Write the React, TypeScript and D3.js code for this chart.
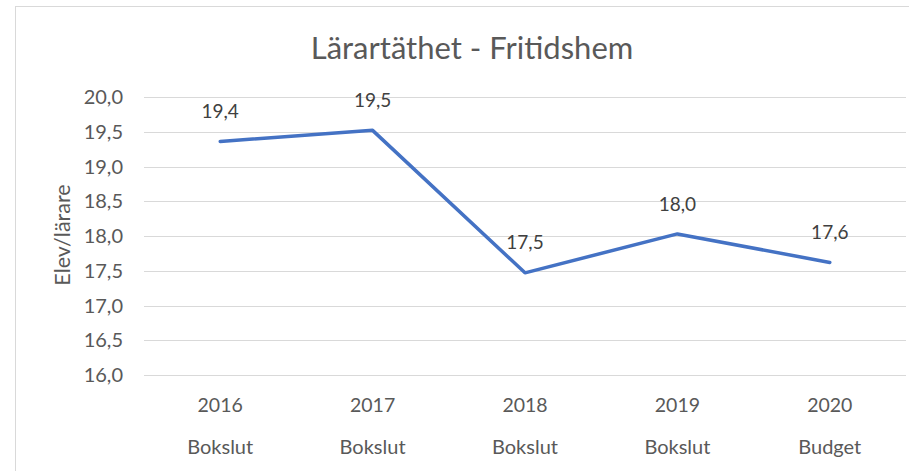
import React, { useEffect, useRef } from 'react';
import * as d3 from 'd3';

const years = ['2016', '2017', '2018', '2019', '2020'];
const kinds = ['Bokslut', 'Bokslut', 'Bokslut', 'Bokslut', 'Budget'];
const values = [19.36, 19.52, 17.47, 18.03, 17.62];
const valueLabels = ['19,4', '19,5', '17,5', '18,0', '17,6'];
const yTicks = [16, 16.5, 17, 17.5, 18, 18.5, 19, 19.5, 20];

export default function App() {
  const ref = useRef<SVGSVGElement>(null);

  useEffect(() => {
    if (!ref.current) return;
    const svg = d3.select(ref.current);
    svg.selectAll('*').remove();

    const width = 909;
    const height = 471;
    const margin = { top: 97, right: 3, bottom: 96, left: 144 };
    const font = 'Lato, Calibri, sans-serif';
    const textColor = '#595959';

    // ------- Frame -------
    svg.append('rect')
      .attr('x', 15.5)
      .attr('y', 6.5)
      .attr('width', width)
      .attr('height', height)
      .attr('fill', '#fff')
      .attr('stroke', '#d9d9d9');

    // ------- Scales -------
    const x = d3.scaleBand<string>()
      .domain(years)
      .range([margin.left, width - margin.right]);

    const y = d3.scaleLinear()
      .domain([16, 20])
      .range([height - margin.bottom, margin.top]);

    // ------- Grid -------
    svg.append('g')
      .selectAll('line')
      .data(yTicks)
      .enter()
      .append('line')
      .attr('x1', margin.left)
      .attr('x2', width - margin.right)
      .attr('y1', (d) => Math.round(y(d)) + 0.5)
      .attr('y2', (d) => Math.round(y(d)) + 0.5)
      .attr('stroke', '#d9d9d9')
      .attr('stroke-width', 1);

    // ------- Y ticks -------
    svg.append('g')
      .selectAll('text')
      .data(yTicks)
      .enter()
      .append('text')
      .attr('x', margin.left - 21)
      .attr('y', (d) => y(d))
      .attr('dy', '0.35em')
      .attr('text-anchor', 'end')
      .attr('font-family', font)
      .attr('font-size', 20)
      .attr('fill', textColor)
      .text((d) => d.toFixed(1).replace('.', ','));

    // ------- X labels -------
    const xl = svg.append('g');
    xl.selectAll('text.year')
      .data(years)
      .enter()
      .append('text')
      .attr('class', 'year')
      .attr('x', (d) => x(d)! + x.bandwidth() / 2)
      .attr('y', 405)
      .attr('dy', '0.35em')
      .attr('text-anchor', 'middle')
      .attr('font-family', font)
      .attr('font-size', 19.5)
      .attr('fill', textColor)
      .text((d) => d);

    xl.selectAll('text.kind')
      .data(kinds)
      .enter()
      .append('text')
      .attr('class', 'kind')
      .attr('x', (_, i) => x(years[i])! + x.bandwidth() / 2)
      .attr('y', 447)
      .attr('dy', '0.35em')
      .attr('text-anchor', 'middle')
      .attr('font-family', font)
      .attr('font-size', 20)
      .attr('fill', textColor)
      .text((d) => d);

    // ------- Axis title -------
    svg.append('text')
      .attr('transform', `translate(62, 235) rotate(-90)`)
      .attr('dy', '0.35em')
      .attr('text-anchor', 'middle')
      .attr('font-family', font)
      .attr('font-size', 21.5)
      .attr('fill', textColor)
      .text('Elev/lärare');

    // ------- Title -------
    svg.append('text')
      .attr('x', 472)
      .attr('y', 48)
      .attr('dy', '0.35em')
      .attr('text-anchor', 'middle')
      .attr('font-family', font)
      .attr('font-size', 31)
      .attr('fill', textColor)
      .text('Lärartäthet - Fritidshem');

    // ------- Line -------
    const line = d3.line<number>()
      .x((_, i) => x(years[i])! + x.bandwidth() / 2)
      .y((d) => y(d));

    svg.append('path')
      .datum(values)
      .attr('fill', 'none')
      .attr('stroke', '#4472c4')
      .attr('stroke-width', 3.5)
      .attr('stroke-linejoin', 'round')
      .attr('stroke-linecap', 'round')
      .attr('d', line);

    // ------- Data labels -------
    svg.append('g')
      .selectAll('text')
      .data(values)
      .enter()
      .append('text')
      .attr('x', (_, i) => x(years[i])! + x.bandwidth() / 2)
      .attr('y', (d) => y(d) - 30)
      .attr('dy', '0.35em')
      .attr('text-anchor', 'middle')
      .attr('font-family', font)
      .attr('font-size', 19)
      .attr('fill', '#404040')
      .text((_, i) => valueLabels[i]);
  }, []);

  return (
    <svg
      ref={ref}
      width={909}
      height={471}
      style={{ position: 'absolute', left: 0, top: 0, display: 'block' }}
    />
  );
}
